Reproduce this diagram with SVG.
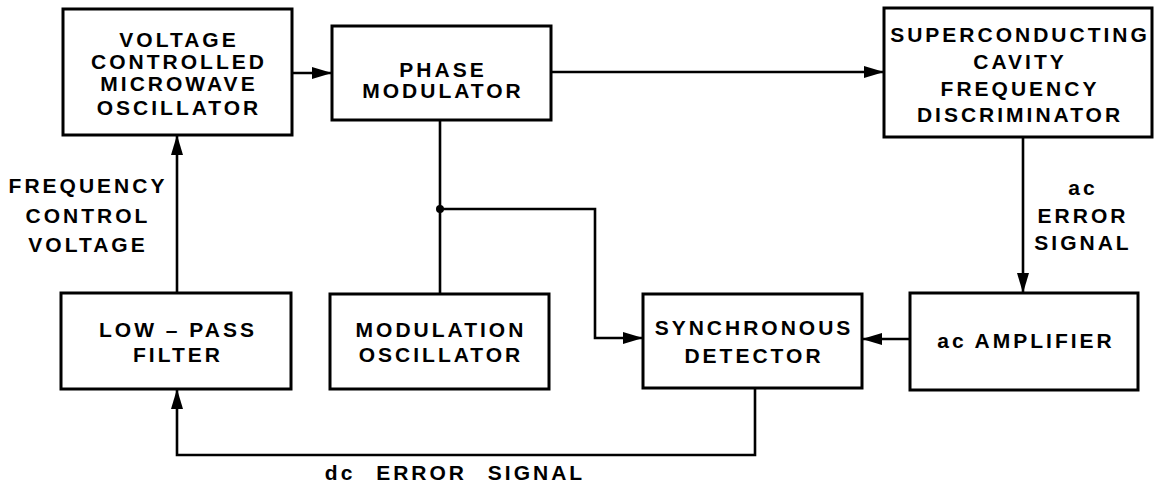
<svg xmlns="http://www.w3.org/2000/svg" width="1155" height="484" viewBox="0 0 1155 484">
<style>
.box{fill:#fff;stroke:#000;stroke-width:3}
.ln{fill:none;stroke:#000;stroke-width:2.6}
text{font-family:"Liberation Sans",Arial,sans-serif;font-weight:bold;font-size:21px;letter-spacing:3px;text-anchor:middle;fill:#000}
</style>
<defs>
<marker id="ah" viewBox="0 0 20 12" refX="20" refY="6" markerWidth="20" markerHeight="12" markerUnits="userSpaceOnUse" orient="auto">
<path d="M0,0 L20,6 L0,12 Z" fill="#000"/>
</marker>
</defs>
<rect width="1155" height="484" fill="#fff"/>
<g id="connectors">
<line class="ln" x1="292" y1="73" x2="332" y2="73" marker-end="url(#ah)"/>
<line class="ln" x1="551" y1="72" x2="884" y2="72" marker-end="url(#ah)"/>
<line class="ln" x1="1023" y1="137" x2="1023" y2="293" marker-end="url(#ah)"/>
<line class="ln" x1="910" y1="339" x2="862" y2="339" marker-end="url(#ah)"/>
<line class="ln" x1="440" y1="120" x2="440" y2="294"/>
<polyline class="ln" points="440,209 595,209 595,338 643,338" marker-end="url(#ah)"/>
<circle cx="440" cy="209" r="4" fill="#000"/>
<polyline class="ln" points="755,388 755,455 177,455 177,389" marker-end="url(#ah)"/>
<line class="ln" x1="177" y1="293" x2="177" y2="135" marker-end="url(#ah)"/>
</g>
<g id="vcmo">
<rect class="box" x="63" y="9" width="229" height="126"/>
<text x="179" y="47">VOLTAGE</text>
<text x="179" y="69">CONTROLLED</text>
<text x="179" y="91">MICROWAVE</text>
<text x="179" y="115">OSCILLATOR</text>
</g>
<g id="phase-modulator">
<rect class="box" x="332" y="26" width="219" height="94"/>
<text x="443" y="77">PHASE</text>
<text x="443" y="98">MODULATOR</text>
</g>
<g id="scfd">
<rect class="box" x="884" y="8" width="268" height="129"/>
<text x="1020" y="42">SUPERCONDUCTING</text>
<text x="1020" y="69">CAVITY</text>
<text x="1020" y="96">FREQUENCY</text>
<text x="1020" y="122">DISCRIMINATOR</text>
</g>
<g id="ac-amplifier">
<rect class="box" x="910" y="293" width="228" height="97"/>
<text x="1026" y="348">ac AMPLIFIER</text>
</g>
<g id="sync-detector">
<rect class="box" x="643" y="294" width="219" height="94"/>
<text x="754" y="335">SYNCHRONOUS</text>
<text x="754" y="363">DETECTOR</text>
</g>
<g id="modulation-oscillator">
<rect class="box" x="330" y="294" width="219" height="95"/>
<text x="441" y="337">MODULATION</text>
<text x="441" y="362">OSCILLATOR</text>
</g>
<g id="low-pass-filter">
<rect class="box" x="61" y="293" width="230" height="96"/>
<text x="178" y="337">LOW – PASS</text>
<text x="178" y="362">FILTER</text>
</g>
<g id="labels">
<text x="88" y="193">FREQUENCY</text>
<text x="88" y="223">CONTROL</text>
<text x="88" y="252">VOLTAGE</text>
<text x="1083" y="195">ac</text>
<text x="1083" y="223">ERROR</text>
<text x="1083" y="250">SIGNAL</text>
<text x="455" y="480" style="word-spacing:12px">dc  ERROR SIGNAL</text>
</g>
</svg>
